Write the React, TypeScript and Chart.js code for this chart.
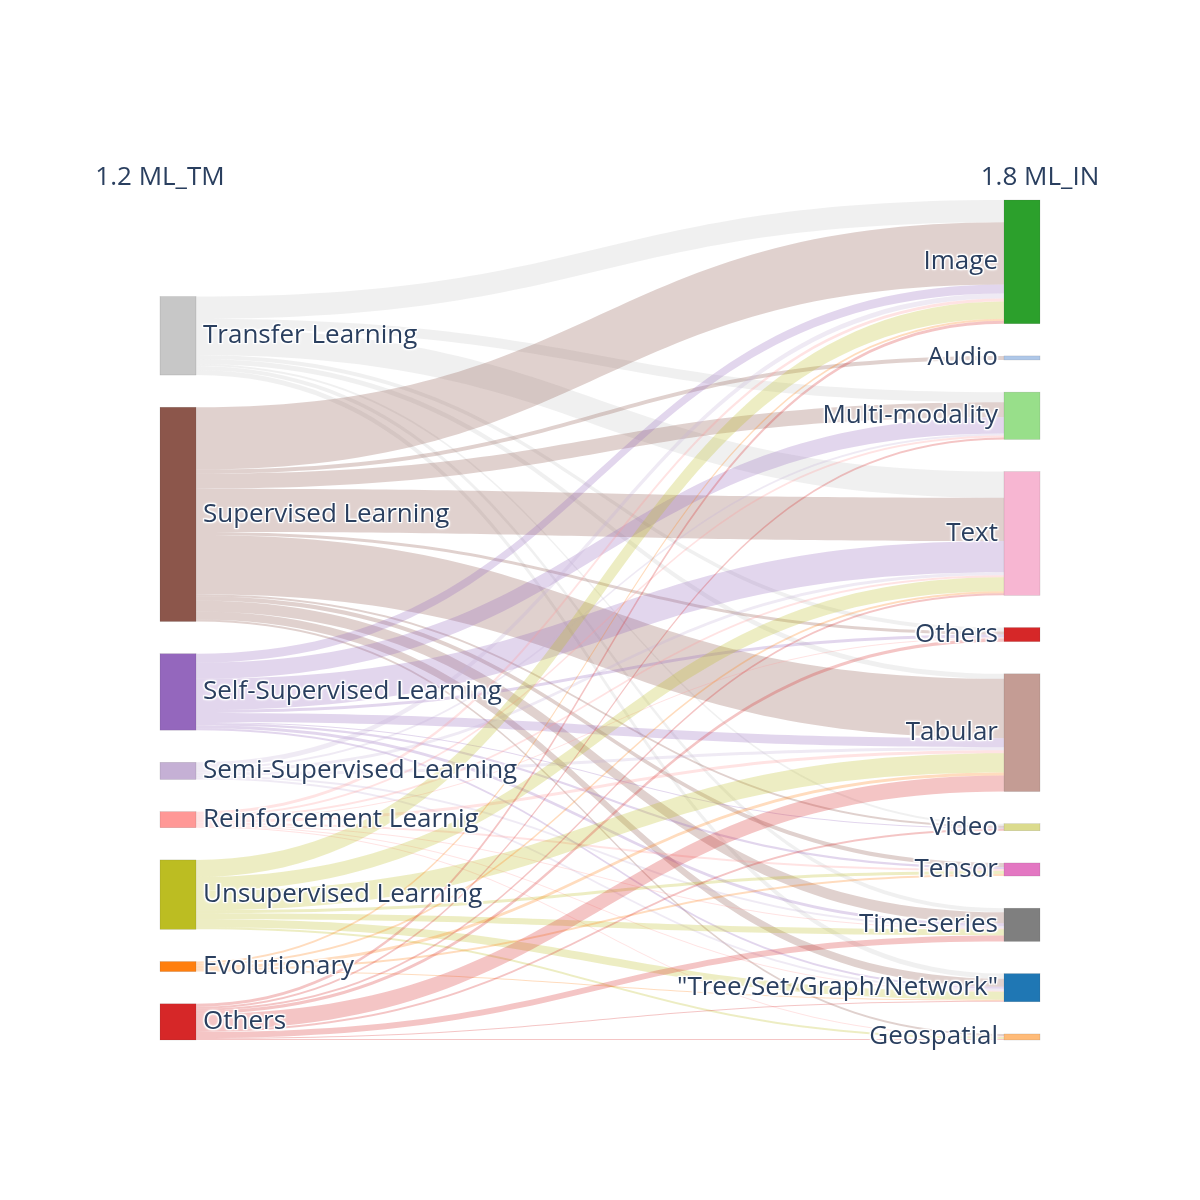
import React, { useEffect, useRef } from "react";
import { Chart, registerables } from "chart.js";

Chart.register(...registerables);

// Column headers
const leftTitle = "1.2 ML_TM";
const rightTitle = "1.8 ML_IN";

// Training methods (left column)
const sourceNodes = [
  "Transfer Learning",
  "Supervised Learning",
  "Self-Supervised Learning",
  "Semi-Supervised Learning",
  "Reinforcement Learnig",
  "Unsupervised Learning",
  "Evolutionary",
  "Others",
];
const sourceColors = ["#c7c7c7", "#8c564b", "#9467bd", "#c5b0d5", "#ff9896", "#bcbd22", "#ff7f0e", "#d62728"];

// Input data types (right column)
const targetNodes = [
  "Image",
  "Audio",
  "Multi-modality",
  "Text",
  "Others",
  "Tabular",
  "Video",
  "Tensor",
  "Time-series",
  '"Tree/Set/Graph/Network"',
  "Geospatial",
];
const targetColors = ["#2ca02c", "#aec7e8", "#98df8a", "#f7b6d2", "#d62728", "#c49c94", "#dbdb8d", "#e377c2", "#7f7f7f", "#1f77b4", "#ffbb78"];

// Flow counts per training method, in the order of targetNodes
const transferFlows = [22, 0, 10, 26, 4, 5, 2, 0, 4, 5, 0];
const supervisedFlows = [62, 4, 15, 43, 3, 59, 2, 4, 11, 8, 2];
const selfSupervisedFlows = [9, 0, 16, 31, 3, 9, 1, 2, 3, 2, 0];
const semiSupervisedFlows = [5, 0, 2, 3, 0, 3, 0, 0, 2, 2, 0];
const reinforcementFlows = [3, 0, 2, 2, 1, 3, 0, 2, 1, 1, 1];
const unsupervisedFlows = [17, 0, 0, 14, 0, 19, 0, 3, 6, 8, 2];
const evolutionaryFlows = [2, 0, 0, 2, 0, 3, 0, 2, 0, 1, 0];
const othersFlows = [3, 0, 2, 2, 3, 16, 2, 0, 6, 1, 1];

const flows = [
  transferFlows,
  supervisedFlows,
  selfSupervisedFlows,
  semiSupervisedFlows,
  reinforcementFlows,
  unsupervisedFlows,
  evolutionaryFlows,
  othersFlows,
];

const NODE_PAD = 32; // gap between nodes, in flow units
const NODE_WIDTH = 36 / 880; // node thickness as a fraction of the x range
const LINK_ALPHA = 0.27;
const FONT = '26px "Open Sans", sans-serif';
const TEXT_COLOR = "#2a3f5f";

const sum = (a: number[]) => a.reduce((s, v) => s + v, 0);
const sourceTotals = flows.map(sum);
const targetTotals = targetNodes.map((_, j) => sum(flows.map((row) => row[j])));
const Y_MAX = sum(targetTotals) + NODE_PAD * (targetNodes.length - 1);

function hexToRgba(hex: string, a: number) {
  const n = parseInt(hex.slice(1), 16);
  return `rgba(${(n >> 16) & 255},${(n >> 8) & 255},${n & 255},${a})`;
}

function haloText(ctx: CanvasRenderingContext2D, text: string, x: number, y: number) {
  ctx.save();
  ctx.fillStyle = "#ffffff";
  ctx.shadowColor = "#ffffff";
  ctx.shadowBlur = 2;
  for (const [dx, dy] of [[1, 1], [1, -1], [-1, 1], [-1, -1]]) {
    ctx.fillText(text, x + dx, y + dy);
  }
  ctx.restore();
  ctx.fillStyle = TEXT_COLOR;
  ctx.fillText(text, x, y);
}

const sankeyPlugin = {
  id: "sankeyDraw",
  afterDraw(chart: any) {
    const { ctx } = chart;
    const xs = chart.scales.x;
    const ys = chart.scales.y;

    // node extents in flow units
    const tgtY0: number[] = [];
    let acc = 0;
    targetTotals.forEach((t) => {
      tgtY0.push(acc);
      acc += t + NODE_PAD;
    });
    const leftSpan = sum(sourceTotals) + NODE_PAD * (sourceNodes.length - 1);
    const srcY0: number[] = [];
    acc = Y_MAX - leftSpan;
    sourceTotals.forEach((t) => {
      srcY0.push(acc);
      acc += t + NODE_PAD;
    });

    // link offsets at each end
    const outOff = flows.map(() => new Array(targetNodes.length).fill(0));
    const inOff = flows.map(() => new Array(targetNodes.length).fill(0));
    flows.forEach((row, i) => {
      let o = srcY0[i];
      row.forEach((v, j) => {
        outOff[i][j] = o;
        o += v;
      });
    });
    targetNodes.forEach((_, j) => {
      let o = tgtY0[j];
      flows.forEach((row, i) => {
        inOff[i][j] = o;
        o += row[j];
      });
    });

    const xa = xs.getPixelForValue(NODE_WIDTH);
    const xb = xs.getPixelForValue(1 - NODE_WIDTH);
    const xm = (xa + xb) / 2;

    ctx.save();
    flows.forEach((row, i) => {
      row.forEach((v, j) => {
        if (v <= 0) return;
        const a0 = ys.getPixelForValue(outOff[i][j]);
        const a1 = ys.getPixelForValue(outOff[i][j] + v);
        const b0 = ys.getPixelForValue(inOff[i][j]);
        const b1 = ys.getPixelForValue(inOff[i][j] + v);
        ctx.beginPath();
        ctx.moveTo(xa, a0);
        ctx.bezierCurveTo(xm, a0, xm, b0, xb, b0);
        ctx.lineTo(xb, b1);
        ctx.bezierCurveTo(xm, b1, xm, a1, xa, a1);
        ctx.closePath();
        ctx.fillStyle = hexToRgba(sourceColors[i], LINK_ALPHA);
        ctx.fill();
      });
    });

    const drawNode = (x0: number, x1: number, v0: number, v1: number, color: string) => {
      const px0 = xs.getPixelForValue(x0);
      const px1 = xs.getPixelForValue(x1);
      const py0 = ys.getPixelForValue(v0);
      const py1 = ys.getPixelForValue(v1);
      ctx.fillStyle = color;
      ctx.fillRect(px0, py0, px1 - px0, py1 - py0);
      ctx.strokeStyle = "rgba(68,68,68,0.25)";
      ctx.lineWidth = 0.5;
      ctx.strokeRect(px0, py0, px1 - px0, py1 - py0);
    };
    sourceNodes.forEach((_, i) => drawNode(0, NODE_WIDTH, srcY0[i], srcY0[i] + sourceTotals[i], sourceColors[i]));
    targetNodes.forEach((_, j) => drawNode(1 - NODE_WIDTH, 1, tgtY0[j], tgtY0[j] + targetTotals[j], targetColors[j]));

    ctx.font = FONT;
    ctx.textBaseline = "middle";
    ctx.textAlign = "left";
    sourceNodes.forEach((name, i) => {
      const cy = ys.getPixelForValue(srcY0[i] + sourceTotals[i] / 2);
      haloText(ctx, name, xa + 7, cy);
    });
    ctx.textAlign = "right";
    targetNodes.forEach((name, j) => {
      const cy = ys.getPixelForValue(tgtY0[j] + targetTotals[j] / 2);
      haloText(ctx, name, xb - 6, cy);
    });

    ctx.textAlign = "center";
    ctx.fillStyle = TEXT_COLOR;
    const ty = chart.chartArea.top - 22;
    ctx.fillText(leftTitle, xs.getPixelForValue(0), ty);
    ctx.fillText(rightTitle, xs.getPixelForValue(1), ty);
    ctx.restore();
  },
};

export default function App() {
  const canvasRef = useRef<HTMLCanvasElement | null>(null);

  useEffect(() => {
    if (!canvasRef.current) return;
    const chart = new Chart(canvasRef.current, {
      type: "scatter",
      data: { datasets: [] },
      options: {
        responsive: false,
        animation: false,
        devicePixelRatio: 1,
        layout: { padding: { left: 160, right: 160, top: 200, bottom: 160 } },
        plugins: { legend: { display: false }, tooltip: { enabled: false } },
        scales: {
          x: { type: "linear", min: 0, max: 1, display: false },
          y: { type: "linear", min: 0, max: Y_MAX, reverse: true, display: false },
        },
      },
      plugins: [sankeyPlugin],
    });
    return () => chart.destroy();
  }, []);

  return (
    <div style={{ position: "absolute", left: 0, top: 0, width: 1200, height: 1200, background: "#fff" }}>
      <canvas ref={canvasRef} width={1200} height={1200} style={{ display: "block" }} />
    </div>
  );
}
